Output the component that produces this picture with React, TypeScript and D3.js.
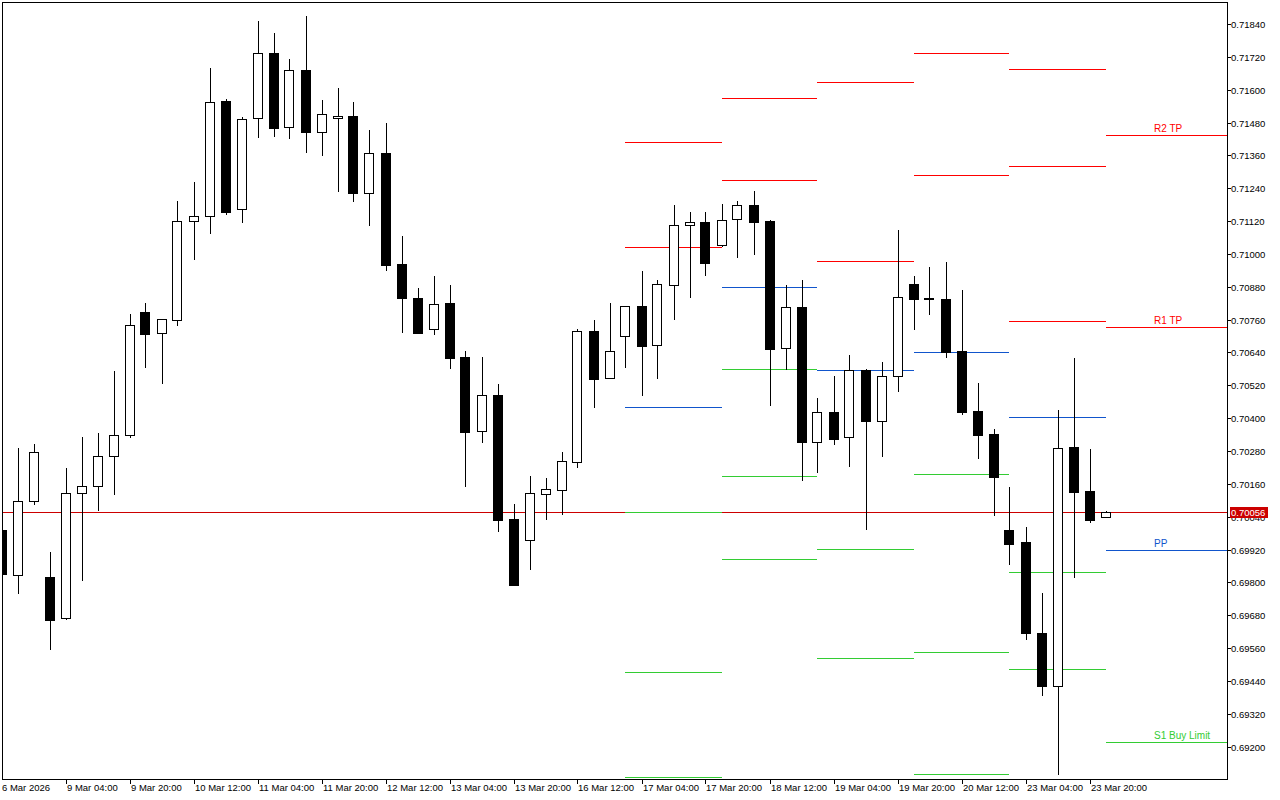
import React from "react";
import * as d3 from "d3";

// ---- Data (H4 bars, 6 Mar 2026 12:00 .. 24 Mar 2026 00:00) ----
const open = [0.69992,0.69828,0.70096,0.69820,0.69669,0.70126,0.70151,0.70261,0.70338,0.70787,0.70710,0.70758,0.71119,0.71138,0.71559,0.71165,0.71496,0.71733,0.71463,0.71671,0.71444,0.71496,0.71504,0.71224,0.71369,0.70963,0.70839,0.70725,0.70821,0.70624,0.70352,0.70485,0.70032,0.69954,0.70122,0.70139,0.70241,0.70717,0.70548,0.70699,0.70809,0.70666,0.70885,0.71105,0.71116,0.71032,0.71127,0.71179,0.71120,0.70655,0.70806,0.70314,0.70423,0.70330,0.70575,0.70389,0.70553,0.70890,0.70840,0.70835,0.70646,0.70426,0.70342,0.69992,0.69948,0.69615,0.69423,0.70295,0.70134,0.70040];
const high = [0.70006,0.70291,0.70306,0.69911,0.70218,0.70331,0.70345,0.70572,0.70781,0.70820,0.70762,0.71193,0.71263,0.71679,0.71566,0.71500,0.71851,0.71807,0.71712,0.71869,0.71562,0.71606,0.71555,0.71453,0.71478,0.71066,0.70876,0.70919,0.70887,0.70646,0.70624,0.70525,0.70087,0.70189,0.70182,0.70277,0.70726,0.70759,0.70821,0.70810,0.70938,0.70905,0.71179,0.71153,0.71153,0.71183,0.71193,0.71230,0.71124,0.70885,0.70905,0.70474,0.70554,0.70631,0.70580,0.70605,0.71088,0.70919,0.70952,0.70971,0.70868,0.70529,0.70361,0.70149,0.70003,0.69763,0.70430,0.70619,0.70287,0.70061];
const low = [0.69780,0.69763,0.70088,0.69558,0.69666,0.69810,0.70066,0.70124,0.70332,0.70588,0.70530,0.70742,0.70983,0.71078,0.71147,0.71118,0.71428,0.71431,0.71425,0.71374,0.71363,0.71231,0.71195,0.71107,0.70942,0.70716,0.70711,0.70709,0.70584,0.70153,0.70314,0.69989,0.69791,0.69850,0.70033,0.70051,0.70223,0.70442,0.70547,0.70588,0.70486,0.70548,0.70763,0.70844,0.70924,0.71029,0.70990,0.71000,0.70449,0.70579,0.70174,0.70205,0.70307,0.70227,0.69994,0.70263,0.70500,0.70726,0.70782,0.70625,0.70415,0.70256,0.70048,0.69869,0.69595,0.69390,0.69101,0.69821,0.70022,0.70040];
const close = [0.69831,0.70096,0.70275,0.69664,0.70126,0.70151,0.70261,0.70338,0.70739,0.70709,0.70761,0.71119,0.71138,0.71554,0.71154,0.71492,0.71733,0.71461,0.71671,0.71447,0.71510,0.71503,0.71224,0.71369,0.70961,0.70839,0.70712,0.70816,0.70621,0.70351,0.70485,0.70029,0.69792,0.70126,0.70140,0.70243,0.70717,0.70544,0.70644,0.70809,0.70665,0.70889,0.71105,0.71116,0.70968,0.71123,0.71178,0.71118,0.70654,0.70805,0.70313,0.70422,0.70325,0.70575,0.70391,0.70553,0.70842,0.70837,0.70834,0.70642,0.70424,0.70340,0.70186,0.69942,0.69616,0.69423,0.70290,0.70132,0.70029,0.70056];

const currentPrice = 0.70056;

// Time axis labels (bar index -> label)
const timeTickBars = [0,4,8,12,16,20,24,28,32,36,40,44,48,52,56,60,64,68];
const timeTickLabels = ["6 Mar 2026","9 Mar 04:00","9 Mar 20:00","10 Mar 12:00","11 Mar 04:00","11 Mar 20:00","12 Mar 12:00","13 Mar 04:00","13 Mar 20:00","16 Mar 12:00","17 Mar 04:00","17 Mar 20:00","18 Mar 12:00","19 Mar 04:00","19 Mar 20:00","20 Mar 12:00","23 Mar 04:00","23 Mar 20:00"];

// Price axis ticks
const priceTicks = [0.69200,0.69320,0.69440,0.69560,0.69680,0.69800,0.69920,0.70040,0.70160,0.70280,0.70400,0.70520,0.70640,0.70760,0.70880,0.71000,0.71120,0.71240,0.71360,0.71480,0.71600,0.71720,0.71840];

// Daily pivot levels (segment starts at first bar of each day)
const pivotDays = ["17 Mar","18 Mar","19 Mar","20 Mar","23 Mar","24 Mar"];
const pivotStartBar = [39,45,51,57,63,69];
const pivotR3 = [null,null,null,null,0.71675,null];
const pivotR2 = [0.71408,0.71569,0.71627,0.71733,0.71320,0.71433];
const pivotR1 = [0.71024,0.71269,0.70973,0.71287,0.70754,0.70733];
const pivotPP = [0.70440,0.70878,0.70575,0.70641,0.70403,0.69917];
const pivotS1 = [0.70056,0.70579,0.69921,0.70195,0.69837,0.69216];
const pivotS2 = [0.69472,0.70188,0.69523,0.69545,0.69483,null];
const pivotS3 = [0.69088,0.69885,null,0.69099,null,null];
const lastDayLabels = { R2: "R2 TP", R1: "R1 TP", PP: "PP", S1: "S1 Buy Limit" };

const RED = "#ff0000";
const BLUE = "#1155cc";
const GREEN = "#33cc33";
const FONT = "'Liberation Sans', Arial, sans-serif";

export default function App() {
  const W = 1280, H = 800;
  const left = 2, right = 1227, top = 2, bottom = 779;
  const nBars = open.length;

  const x = d3.scaleLinear().domain([0, nBars - 1]).range([2, 2 + 16 * (nBars - 1)]);
  const y = d3.scaleLinear().domain([0.69080, 0.71920]).range([779.55, 2.1]);
  const px = (i: number) => Math.floor(x(i));
  const py = (v: number) => Math.round(y(v));

  const levelSets: { key: string; vals: (number | null)[]; color: string }[] = [
    { key: "R3", vals: pivotR3, color: RED },
    { key: "R2", vals: pivotR2, color: RED },
    { key: "R1", vals: pivotR1, color: RED },
    { key: "PP", vals: pivotPP, color: BLUE },
    { key: "S1", vals: pivotS1, color: GREEN },
    { key: "S2", vals: pivotS2, color: GREEN },
    { key: "S3", vals: pivotS3, color: GREEN },
  ];

  const pivotLines: JSX.Element[] = [];
  const pivotTexts: JSX.Element[] = [];
  pivotDays.forEach((day, d) => {
    const x0 = px(pivotStartBar[d]);
    const x1 = d === pivotDays.length - 1 ? right : px(pivotStartBar[d] + 6);
    levelSets.forEach((ls) => {
      const v = ls.vals[d];
      if (v == null) return;
      const yy = py(v);
      if (yy < top || yy > bottom) return;
      pivotLines.push(
        <rect key={`${day}-${ls.key}`} x={x0} y={yy} width={x1 - x0} height={1} fill={ls.color} />
      );
      if (d === pivotDays.length - 1) {
        const lab = (lastDayLabels as any)[ls.key];
        if (lab) {
          pivotTexts.push(
            <text key={`lab-${ls.key}`} x={1154} y={yy - 3} fill={ls.color} fontSize={10} fontFamily={FONT}>
              {lab}
            </text>
          );
        }
      }
    });
  });

  const candles = open.map((o, i) => {
    const c = close[i];
    const p = px(i);
    const yh = py(high[i]);
    const yl = py(low[i]);
    const yt = py(Math.max(o, c));
    const yb = py(Math.min(o, c));
    const bull = c > o;
    const bh = Math.max(1, yb - yt + 1);
    return (
      <g key={i}>
        <rect x={p} y={yh} width={1} height={Math.max(1, yl - yh + 1)} fill="#000" />
        <rect x={p - 5} y={yt} width={10} height={bh} fill="#000" />
        {bull && bh > 2 && <rect x={p - 4} y={yt + 1} width={8} height={bh - 2} fill="#fff" />}
      </g>
    );
  });

  const yCur = py(currentPrice);

  return (
    <svg width={W} height={H} style={{ position: "absolute", left: 0, top: 0, background: "#fff" }} shapeRendering="crispEdges">
      <rect x={0} y={0} width={W} height={H} fill="#fff" />
      <defs>
        <clipPath id="plot">
          <rect x={left + 1} y={top + 1} width={right - left - 1} height={bottom - top - 1} />
        </clipPath>
      </defs>
      <g clipPath="url(#plot)">
        <rect x={left} y={yCur} width={right - left} height={1} fill="#cc0000" />
        {pivotLines}
        {candles}
      </g>
      {pivotTexts}
      {/* frame */}
      <rect x={left} y={top} width={1} height={bottom - top + 1} fill="#000" />
      <rect x={left} y={top} width={right - left + 1} height={1} fill="#000" />
      <rect x={right} y={top} width={1} height={bottom - top + 1} fill="#000" />
      <rect x={left} y={bottom} width={right - left + 1} height={1} fill="#000" />
      {/* price axis */}
      {priceTicks.map((t) => (
        <g key={t}>
          <rect x={right + 1} y={py(t)} width={3} height={1} fill="#000" />
          <text x={1231} y={py(t) + 4} fontSize={9.5} fontFamily={FONT} fill="#000">
            {t.toFixed(5)}
          </text>
        </g>
      ))}
      <rect x={1230} y={yCur - 5} width={38} height={11} fill="#cc0000" />
      <text x={1231} y={yCur + 4} fontSize={9.5} fontFamily={FONT} fill="#fff">
        {currentPrice.toFixed(5)}
      </text>
      {/* time axis */}
      {timeTickBars.map((b, k) => (
        <g key={b}>
          {k > 0 && <rect x={px(b)} y={bottom + 1} width={1} height={4} fill="#000" />}
          <text x={px(b) + (k > 0 ? 1 : 0)} y={791} fontSize={9.5} fontFamily={FONT} fill="#000">
            {timeTickLabels[k]}
          </text>
        </g>
      ))}
    </svg>
  );
}
